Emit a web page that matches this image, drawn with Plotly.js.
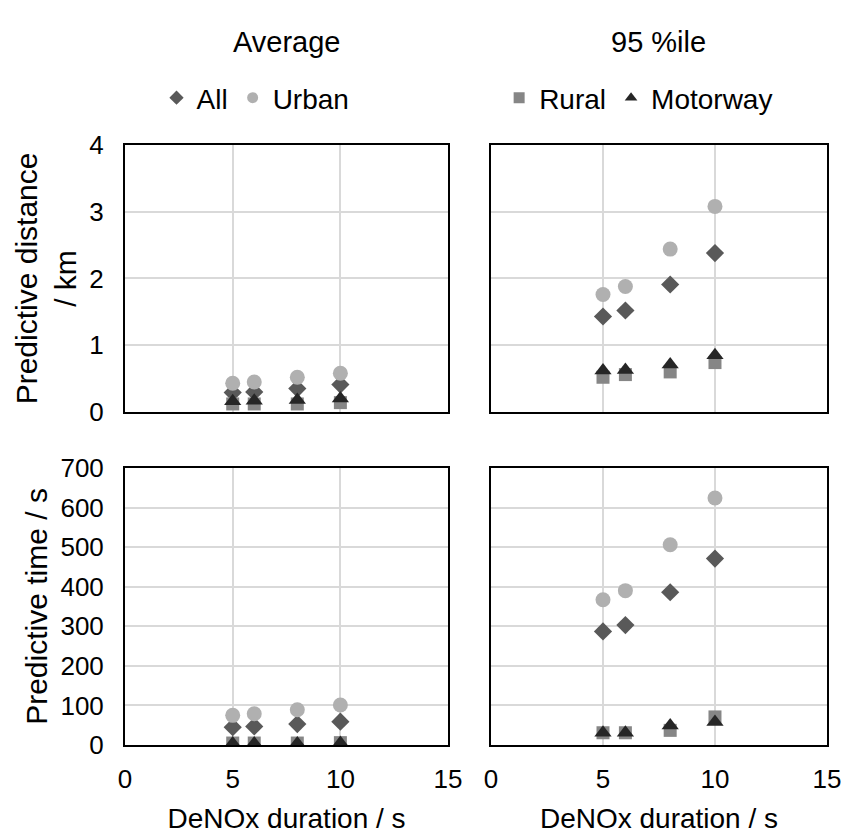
<!DOCTYPE html>
<html>
<head>
<meta charset="utf-8">
<script src="https://cdn.plot.ly/plotly-3.0.1.min.js"></script>
<style>html,body{margin:0;padding:0;background:#fff;}#chart{width:846px;height:837px;}</style>
</head>
<body>
<div id="chart"></div>
<script>
// ---- data ----
var durations = [5, 6, 8, 10];
var seriesNames = ["All", "Urban", "Rural", "Motorway"];

var avgDistAll = [0.29, 0.30, 0.35, 0.41];
var avgDistUrban = [0.43, 0.45, 0.52, 0.58];
var avgDistRural = [0.12, 0.12, 0.12, 0.14];
var avgDistMotorway = [0.16, 0.17, 0.18, 0.20];

var p95DistAll = [1.43, 1.52, 1.91, 2.38];
var p95DistUrban = [1.76, 1.88, 2.44, 3.08];
var p95DistRural = [0.52, 0.56, 0.60, 0.74];
var p95DistMotorway = [0.62, 0.63, 0.71, 0.85];

var avgTimeAll = [45, 47, 53, 59];
var avgTimeUrban = [75, 79, 89, 101];
var avgTimeRural = [5, 5, 5, 6];
var avgTimeMotorway = [4, 4, 4, 5];

var p95TimeAll = [287, 303, 386, 471];
var p95TimeUrban = [367, 390, 506, 624];
var p95TimeRural = [31, 31, 37, 71];
var p95TimeMotorway = [31, 31, 49, 58];

var xTicks = [0, 5, 10, 15];
var distTicks = [0, 1, 2, 3, 4];
var timeTicks = [0, 100, 200, 300, 400, 500, 600, 700];

// ---- styles ----
var FONT = "'Liberation Sans', Arial, sans-serif";
var TICK = 26, TXT = 28, YT = 30;
var styles = {
  All: {symbol: "diamond", color: "#595959", size: 14},
  Urban: {symbol: "circle", color: "#b0b0b0", size: 15},
  Rural: {symbol: "square", color: "#868686", size: 13},
  Motorway: {symbol: "triangle-up", color: "#262626", size: 15}
};

var panels = [
  {xa: "x", ya: "y", vals: [avgDistAll, avgDistUrban, avgDistRural, avgDistMotorway]},
  {xa: "x2", ya: "y2", vals: [p95DistAll, p95DistUrban, p95DistRural, p95DistMotorway]},
  {xa: "x3", ya: "y3", vals: [avgTimeAll, avgTimeUrban, avgTimeRural, avgTimeMotorway]},
  {xa: "x4", ya: "y4", vals: [p95TimeAll, p95TimeUrban, p95TimeRural, p95TimeMotorway]}
];

var traces = [];
panels.forEach(function (p) {
  seriesNames.forEach(function (name, i) {
    var s = styles[name];
    traces.push({
      type: "scatter", mode: "markers", x: durations, y: p.vals[i],
      xaxis: p.xa, yaxis: p.ya, name: name, showlegend: false, hoverinfo: "x+y+name",
      marker: {symbol: s.symbol, color: s.color, size: s.size, line: {width: 0}}
    });
  });
});
// legend entries (no data)
seriesNames.forEach(function (name, i) {
  var s = styles[name];
  traces.push({
    type: "scatter", mode: "markers", x: [null], y: [null], xaxis: "x", yaxis: "y",
    name: name, showlegend: true, legend: i < 2 ? "legend" : "legend2",
    marker: {symbol: s.symbol, color: s.color, size: 11, line: {width: 0}}
  });
});

function xAxis(domain, showLabels, anchor) {
  var a = {
    domain: domain, anchor: anchor, range: [0, 15], tickvals: xTicks, ticktext: xTicks.map(String),
    showgrid: true, gridcolor: "#d9d9d9", gridwidth: 2, zeroline: false,
    showline: true, mirror: true, linecolor: "#000", linewidth: 2, ticks: "",
    showticklabels: showLabels, tickfont: {family: FONT, size: TICK, color: "#000"},
    ticklabelstandoff: 10, fixedrange: true
  };
  if (showLabels) {
    a.title = {text: "DeNOx duration / s", font: {family: FONT, size: TXT, color: "#000"}, standoff: 15};
  }
  return a;
}
function yAxis(domain, range, ticks, showLabels, anchor, title) {
  var a = {
    domain: domain, anchor: anchor, range: range, tickvals: ticks, ticktext: ticks.map(String),
    showgrid: true, gridcolor: "#d9d9d9", gridwidth: 2, zeroline: false,
    showline: true, mirror: true, linecolor: "#000", linewidth: 2, ticks: "",
    showticklabels: showLabels, tickfont: {family: FONT, size: TICK, color: "#000"},
    ticklabelstandoff: 14, fixedrange: true
  };
  if (title) {
    a.title = {text: title, font: {family: FONT, size: YT, color: "#000"}, standoff: 4};
  }
  return a;
}

var xL = [0.1478, 0.5296], xR = [0.5804, 0.9775];
var yT = [0.5078, 0.8268], yB = [0.1099, 0.4409];

var layout = {
  width: 846, height: 837,
  margin: {l: 0, r: 0, t: 0, b: 0},
  paper_bgcolor: "#fff", plot_bgcolor: "#fff",
  font: {family: FONT, size: TXT, color: "#000"},
  xaxis: xAxis(xL, false, "y"),
  yaxis: yAxis(yT, [0, 4], distTicks, true, "x", "Predictive distance<br>/ km"),
  xaxis2: xAxis(xR, false, "y2"),
  yaxis2: yAxis(yT, [0, 4], distTicks, false, "x2", null),
  xaxis3: xAxis(xL, true, "y3"),
  yaxis3: yAxis(yB, [0, 700], timeTicks, true, "x3", "Predictive time / s"),
  xaxis4: xAxis(xR, true, "y4"),
  yaxis4: yAxis(yB, [0, 700], timeTicks, false, "x4", null),
  legend: {
    orientation: "h", x: 0.185, y: 0.883, xanchor: "left", yanchor: "middle",
    font: {family: FONT, size: TXT, color: "#000"}, bgcolor: "rgba(0,0,0,0)",
    itemwidth: 30
  },
  legend2: {
    orientation: "h", x: 0.59, y: 0.883, xanchor: "left", yanchor: "middle",
    font: {family: FONT, size: TXT, color: "#000"}, bgcolor: "rgba(0,0,0,0)",
    itemwidth: 30
  },
  annotations: [
    {text: "Average", xref: "paper", yref: "paper", x: (xL[0] + xL[1]) / 2, y: 0.95,
     xanchor: "center", yanchor: "middle", showarrow: false, font: {family: FONT, size: 29, color: "#000"}},
    {text: "95 %ile", xref: "paper", yref: "paper", x: (xR[0] + xR[1]) / 2, y: 0.95,
     xanchor: "center", yanchor: "middle", showarrow: false, font: {family: FONT, size: 29, color: "#000"}}
  ]
};

Plotly.newPlot("chart", traces, layout, {displayModeBar: false, staticPlot: true});
</script>
</body>
</html>
